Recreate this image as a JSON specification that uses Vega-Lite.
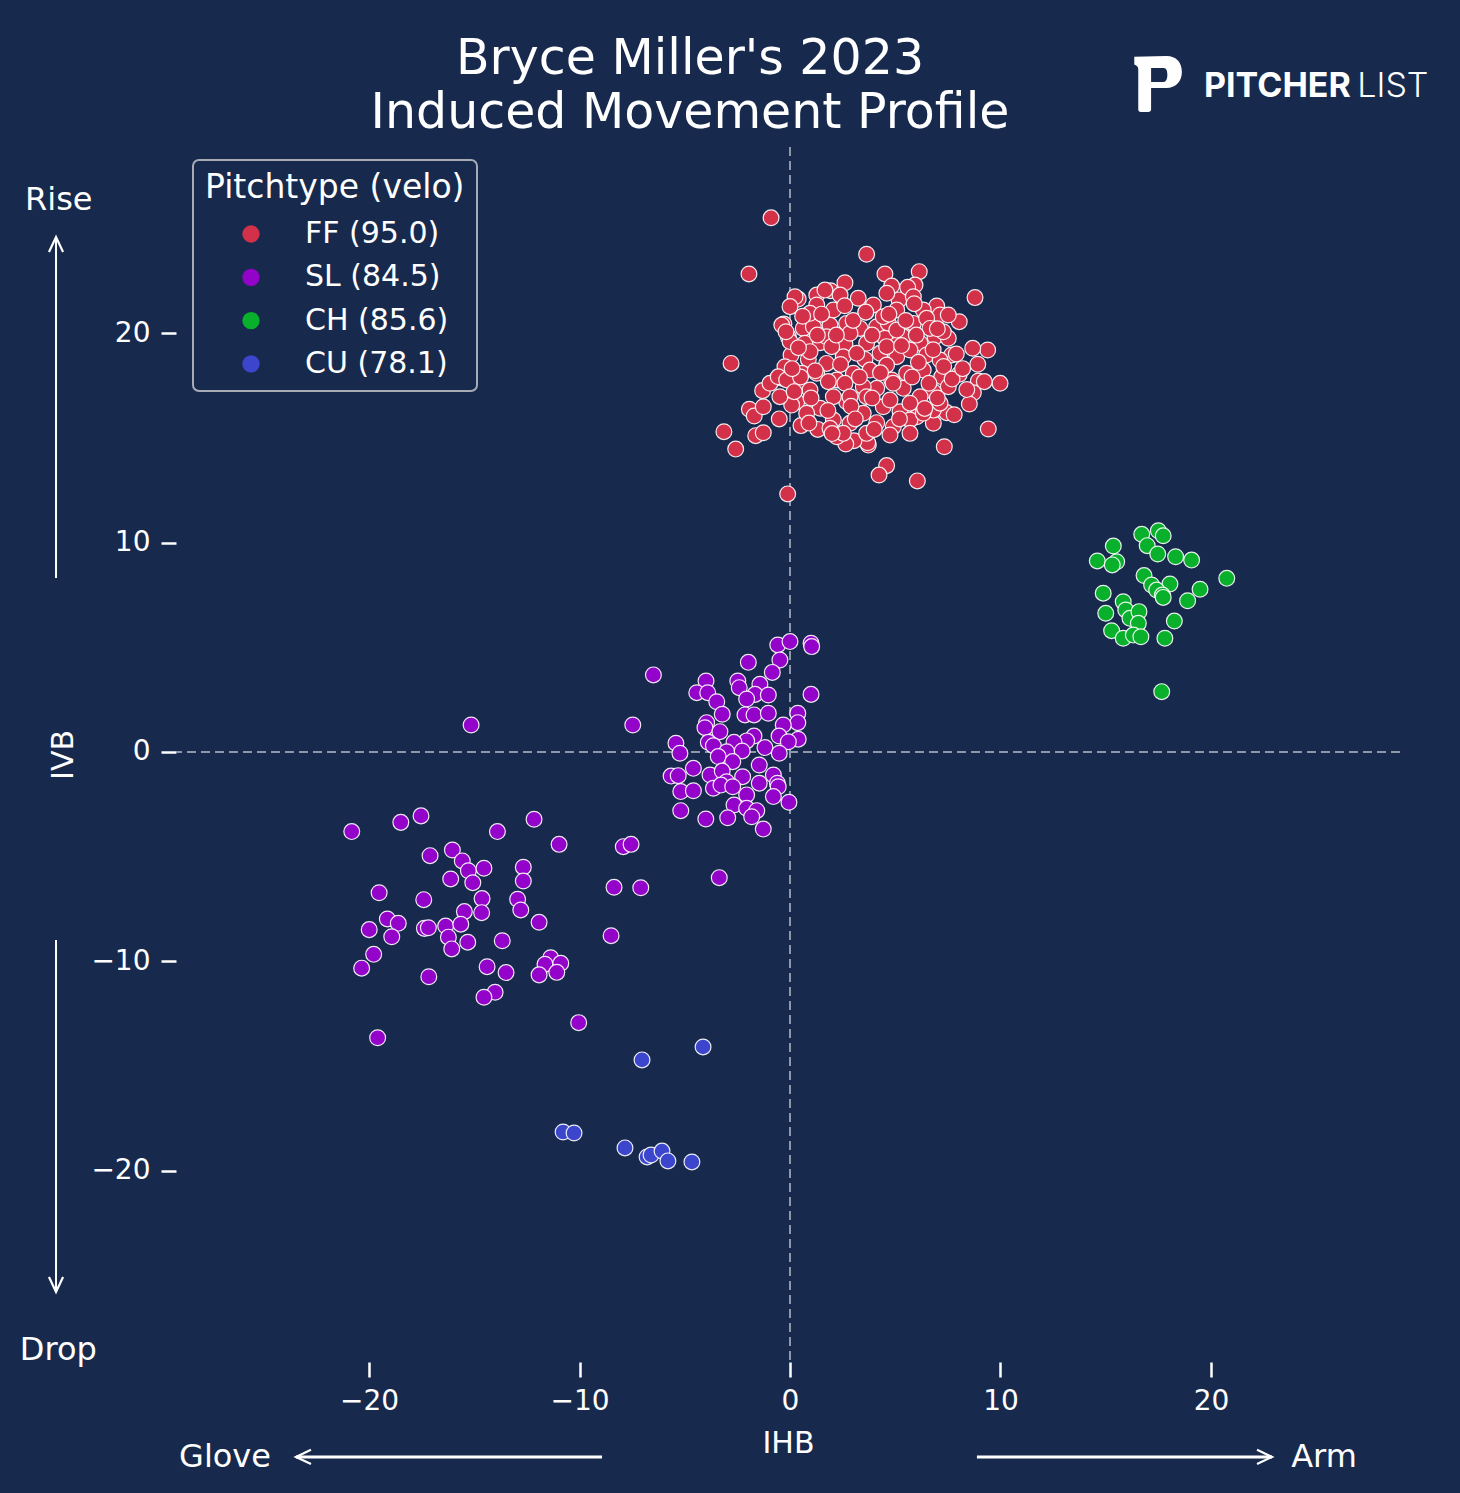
{
  "$schema": "https://vega.github.io/schema/vega-lite/v6.json",
  "width": 1224,
  "height": 1215,
  "autosize": {"type": "none"},
  "padding": {"left": 176, "top": 147, "right": 60, "bottom": 131},
  "background": "#172a4e",
  "title": {
    "text": ["Bryce Miller's 2023", "Induced Movement Profile"],
    "fontSize": 49,
    "fontWeight": "normal",
    "font": "DejaVu Sans",
    "color": "#ffffff",
    "anchor": "middle",
    "frame": "group",
    "dx": -98,
    "dy": 140,
    "lineHeight": 54,
    "baseline": "bottom",
    "offset": 9
  },
  "datasets": {
    "pitches": [
      {"pitch":"FF","ihb":-0.90,"ivb":25.50},{"pitch":"FF","ihb":-1.95,"ivb":22.82},{"pitch":"FF","ihb":3.64,"ivb":23.76},{"pitch":"FF","ihb":4.51,"ivb":22.82},
      {"pitch":"FF","ihb":6.14,"ivb":22.93},{"pitch":"FF","ihb":8.79,"ivb":21.69},{"pitch":"FF","ihb":-2.80,"ivb":18.55},{"pitch":"FF","ihb":-3.14,"ivb":15.29},
      {"pitch":"FF","ihb":-2.58,"ivb":14.46},{"pitch":"FF","ihb":-1.63,"ivb":15.10},{"pitch":"FF","ihb":-1.27,"ivb":15.24},{"pitch":"FF","ihb":-1.93,"ivb":16.36},
      {"pitch":"FF","ihb":-1.70,"ivb":16.04},{"pitch":"FF","ihb":-1.27,"ivb":16.48},{"pitch":"FF","ihb":-1.30,"ivb":17.25},{"pitch":"FF","ihb":-0.11,"ivb":12.32},
      {"pitch":"FF","ihb":4.59,"ivb":13.67},{"pitch":"FF","ihb":4.23,"ivb":13.22},{"pitch":"FF","ihb":6.05,"ivb":12.94},{"pitch":"FF","ihb":7.33,"ivb":14.57},
      {"pitch":"FF","ihb":9.42,"ivb":15.42},{"pitch":"FF","ihb":9.98,"ivb":17.60},{"pitch":"FF","ihb":9.39,"ivb":19.19},{"pitch":"FF","ihb":8.68,"ivb":19.27},
      {"pitch":"FF","ihb":8.92,"ivb":18.51},{"pitch":"FF","ihb":8.95,"ivb":17.71},{"pitch":"FF","ihb":9.23,"ivb":17.68},{"pitch":"FF","ihb":8.71,"ivb":17.15},
      {"pitch":"FF","ihb":8.52,"ivb":16.61},{"pitch":"FF","ihb":8.04,"ivb":20.54},{"pitch":"FF","ihb":8.04,"ivb":18.03},{"pitch":"FF","ihb":7.44,"ivb":16.20},
      {"pitch":"FF","ihb":6.81,"ivb":15.69},{"pitch":"FF","ihb":3.72,"ivb":14.65},{"pitch":"FF","ihb":3.69,"ivb":14.76},{"pitch":"FF","ihb":3.04,"ivb":14.86},
      {"pitch":"FF","ihb":2.65,"ivb":14.70},{"pitch":"FF","ihb":2.22,"ivb":15.05},{"pitch":"FF","ihb":1.32,"ivb":15.40},{"pitch":"FF","ihb":0.52,"ivb":15.58},
      {"pitch":"FF","ihb":-0.51,"ivb":15.90},{"pitch":"FF","ihb":4.83,"ivb":22.24},{"pitch":"FF","ihb":5.18,"ivb":21.58},{"pitch":"FF","ihb":5.94,"ivb":22.29},
      {"pitch":"FF","ihb":5.59,"ivb":22.18},{"pitch":"FF","ihb":2.61,"ivb":22.40},{"pitch":"FF","ihb":1.93,"ivb":22.02},{"pitch":"FF","ihb":2.38,"ivb":21.81},
      {"pitch":"FF","ihb":1.27,"ivb":21.81},{"pitch":"FF","ihb":0.39,"ivb":21.62},{"pitch":"FF","ihb":0.24,"ivb":21.73},{"pitch":"FF","ihb":3.61,"ivb":20.99},
      {"pitch":"FF","ihb":3.96,"ivb":21.34},{"pitch":"FF","ihb":3.24,"ivb":21.66},{"pitch":"FF","ihb":6.81,"ivb":20.86},{"pitch":"FF","ihb":6.97,"ivb":21.29},
      {"pitch":"FF","ihb":7.13,"ivb":20.86},{"pitch":"FF","ihb":7.52,"ivb":20.86},{"pitch":"FF","ihb":6.33,"ivb":21.10},{"pitch":"FF","ihb":-0.29,"ivb":20.43},
      {"pitch":"FF","ihb":0.63,"ivb":20.22},{"pitch":"FF","ihb":-0.08,"ivb":19.82},{"pitch":"FF","ihb":0.05,"ivb":18.95},{"pitch":"FF","ihb":1.90,"ivb":20.38},
      {"pitch":"FF","ihb":1.11,"ivb":20.30},{"pitch":"FF","ihb":2.69,"ivb":20.46},{"pitch":"FF","ihb":4.12,"ivb":20.30},{"pitch":"FF","ihb":4.67,"ivb":20.46},
      {"pitch":"FF","ihb":3.33,"ivb":20.22},{"pitch":"FF","ihb":5.86,"ivb":20.46},{"pitch":"FF","ihb":6.49,"ivb":20.70},{"pitch":"FF","ihb":5.38,"ivb":19.82},
      {"pitch":"FF","ihb":4.51,"ivb":19.75},{"pitch":"FF","ihb":6.89,"ivb":19.82},{"pitch":"FF","ihb":7.52,"ivb":19.75},{"pitch":"FF","ihb":6.18,"ivb":19.51},
      {"pitch":"FF","ihb":5.07,"ivb":19.43},{"pitch":"FF","ihb":3.64,"ivb":19.51},{"pitch":"FF","ihb":2.61,"ivb":19.48},{"pitch":"FF","ihb":1.43,"ivb":19.54},
      {"pitch":"FF","ihb":0.71,"ivb":19.51},{"pitch":"FF","ihb":0.00,"ivb":19.59},{"pitch":"FF","ihb":7.68,"ivb":18.95},{"pitch":"FF","ihb":6.49,"ivb":18.95},
      {"pitch":"FF","ihb":5.07,"ivb":18.87},{"pitch":"FF","ihb":4.28,"ivb":19.03},{"pitch":"FF","ihb":3.56,"ivb":18.74},{"pitch":"FF","ihb":2.53,"ivb":18.87},
      {"pitch":"FF","ihb":1.74,"ivb":18.55},{"pitch":"FF","ihb":0.87,"ivb":18.74},{"pitch":"FF","ihb":7.21,"ivb":17.91},{"pitch":"FF","ihb":6.33,"ivb":18.23},
      {"pitch":"FF","ihb":5.54,"ivb":18.08},{"pitch":"FF","ihb":4.59,"ivb":18.47},{"pitch":"FF","ihb":3.80,"ivb":18.23},{"pitch":"FF","ihb":3.01,"ivb":18.08},
      {"pitch":"FF","ihb":2.22,"ivb":17.76},{"pitch":"FF","ihb":1.27,"ivb":18.08},{"pitch":"FF","ihb":0.39,"ivb":17.44},{"pitch":"FF","ihb":-0.39,"ivb":17.84},
      {"pitch":"FF","ihb":-0.95,"ivb":17.60},{"pitch":"FF","ihb":7.52,"ivb":17.44},{"pitch":"FF","ihb":6.81,"ivb":17.20},{"pitch":"FF","ihb":6.18,"ivb":16.96},
      {"pitch":"FF","ihb":5.38,"ivb":17.36},{"pitch":"FF","ihb":4.83,"ivb":17.76},{"pitch":"FF","ihb":4.12,"ivb":17.36},{"pitch":"FF","ihb":3.48,"ivb":17.44},
      {"pitch":"FF","ihb":2.61,"ivb":17.60},{"pitch":"FF","ihb":1.82,"ivb":17.68},{"pitch":"FF","ihb":0.95,"ivb":17.28},{"pitch":"FF","ihb":0.32,"ivb":16.72},
      {"pitch":"FF","ihb":6.81,"ivb":16.32},{"pitch":"FF","ihb":6.02,"ivb":16.00},{"pitch":"FF","ihb":5.23,"ivb":16.24},{"pitch":"FF","ihb":4.43,"ivb":16.48},
      {"pitch":"FF","ihb":3.48,"ivb":16.17},{"pitch":"FF","ihb":2.69,"ivb":16.72},{"pitch":"FF","ihb":2.06,"ivb":16.96},{"pitch":"FF","ihb":1.43,"ivb":16.41},
      {"pitch":"FF","ihb":0.79,"ivb":16.17},{"pitch":"FF","ihb":0.08,"ivb":16.56},{"pitch":"FF","ihb":-0.48,"ivb":16.96},{"pitch":"FF","ihb":4.12,"ivb":15.72},
      {"pitch":"FF","ihb":4.91,"ivb":15.53},{"pitch":"FF","ihb":2.85,"ivb":15.69},{"pitch":"FF","ihb":2.06,"ivb":15.85},{"pitch":"FF","ihb":1.90,"ivb":15.45},
      {"pitch":"FF","ihb":5.70,"ivb":15.85},{"pitch":"FF","ihb":6.33,"ivb":16.17},{"pitch":"FF","ihb":1.66,"ivb":22.05},{"pitch":"FF","ihb":0.00,"ivb":21.26},
      {"pitch":"FF","ihb":1.27,"ivb":21.34},{"pitch":"FF","ihb":0.95,"ivb":20.94},{"pitch":"FF","ihb":2.06,"ivb":21.10},{"pitch":"FF","ihb":4.43,"ivb":20.78},
      {"pitch":"FF","ihb":5.86,"ivb":21.73},{"pitch":"FF","ihb":5.07,"ivb":21.10},{"pitch":"FF","ihb":-0.39,"ivb":20.38},{"pitch":"FF","ihb":-0.19,"ivb":20.06},
      {"pitch":"FF","ihb":-0.24,"ivb":18.39},{"pitch":"FF","ihb":-0.56,"ivb":17.91},{"pitch":"FF","ihb":-0.16,"ivb":17.76},{"pitch":"FF","ihb":7.13,"ivb":18.71},
      {"pitch":"FF","ihb":5.70,"ivb":19.19},{"pitch":"FF","ihb":4.59,"ivb":19.35},{"pitch":"FF","ihb":3.17,"ivb":19.03},{"pitch":"FF","ihb":1.74,"ivb":19.82},
      {"pitch":"FF","ihb":0.95,"ivb":19.11},{"pitch":"FF","ihb":0.56,"ivb":18.08},{"pitch":"FF","ihb":7.28,"ivb":20.06},{"pitch":"FF","ihb":6.65,"ivb":20.22},
      {"pitch":"FF","ihb":5.07,"ivb":20.14},{"pitch":"FF","ihb":2.85,"ivb":19.99},{"pitch":"FF","ihb":1.98,"ivb":19.35},{"pitch":"FF","ihb":3.64,"ivb":16.96},
      {"pitch":"FF","ihb":2.85,"ivb":16.96},{"pitch":"FF","ihb":4.75,"ivb":16.80},{"pitch":"FF","ihb":5.70,"ivb":16.65},{"pitch":"FF","ihb":7.13,"ivb":16.65},
      {"pitch":"FF","ihb":3.64,"ivb":15.21},{"pitch":"FF","ihb":4.75,"ivb":15.13},{"pitch":"FF","ihb":5.70,"ivb":15.21},{"pitch":"FF","ihb":2.53,"ivb":15.21},
      {"pitch":"FF","ihb":0.6,"ivb":20.8},{"pitch":"FF","ihb":1.5,"ivb":20.9},{"pitch":"FF","ihb":2.2,"ivb":19.9},{"pitch":"FF","ihb":3.0,"ivb":20.6},
      {"pitch":"FF","ihb":3.9,"ivb":19.9},{"pitch":"FF","ihb":4.7,"ivb":20.9},{"pitch":"FF","ihb":5.5,"ivb":20.6},{"pitch":"FF","ihb":6.0,"ivb":19.9},
      {"pitch":"FF","ihb":6.8,"ivb":19.2},{"pitch":"FF","ihb":7.3,"ivb":18.4},{"pitch":"FF","ihb":6.1,"ivb":18.6},{"pitch":"FF","ihb":5.3,"ivb":19.4},
      {"pitch":"FF","ihb":4.3,"ivb":18.1},{"pitch":"FF","ihb":3.3,"ivb":17.9},{"pitch":"FF","ihb":2.4,"ivb":18.5},{"pitch":"FF","ihb":1.2,"ivb":18.2},
      {"pitch":"FF","ihb":0.5,"ivb":17.9},{"pitch":"FF","ihb":1.0,"ivb":16.9},{"pitch":"FF","ihb":1.8,"ivb":16.3},{"pitch":"FF","ihb":2.9,"ivb":16.5},
      {"pitch":"FF","ihb":3.9,"ivb":16.9},{"pitch":"FF","ihb":4.9,"ivb":17.6},{"pitch":"FF","ihb":5.8,"ivb":17.9},{"pitch":"FF","ihb":6.6,"ivb":17.6},
      {"pitch":"FF","ihb":7.7,"ivb":17.8},{"pitch":"FF","ihb":7.0,"ivb":16.9},{"pitch":"FF","ihb":6.4,"ivb":16.4},{"pitch":"FF","ihb":5.2,"ivb":15.9},
      {"pitch":"FF","ihb":4.0,"ivb":15.4},{"pitch":"FF","ihb":3.1,"ivb":15.9},{"pitch":"FF","ihb":2.0,"ivb":15.2},{"pitch":"FF","ihb":0.9,"ivb":15.7},
      {"pitch":"FF","ihb":0.2,"ivb":17.2},{"pitch":"FF","ihb":0.1,"ivb":18.3},{"pitch":"FF","ihb":0.4,"ivb":19.3},{"pitch":"FF","ihb":1.3,"ivb":19.9},
      {"pitch":"FF","ihb":2.6,"ivb":21.3},{"pitch":"FF","ihb":3.6,"ivb":21.0},{"pitch":"FF","ihb":4.6,"ivb":21.9},{"pitch":"FF","ihb":5.9,"ivb":21.4},
      {"pitch":"FF","ihb":7.0,"ivb":20.2},{"pitch":"FF","ihb":7.9,"ivb":19.0},{"pitch":"FF","ihb":8.2,"ivb":18.3},{"pitch":"FF","ihb":8.4,"ivb":17.3},
      {"pitch":"FF","ihb":7.8,"ivb":16.1},

      {"pitch":"SL","ihb":-0.58,"ivb":5.11},{"pitch":"SL","ihb":0.00,"ivb":5.27},{"pitch":"SL","ihb":1.00,"ivb":5.19},{"pitch":"SL","ihb":1.03,"ivb":5.03},
      {"pitch":"SL","ihb":-0.48,"ivb":4.39},{"pitch":"SL","ihb":-1.98,"ivb":4.28},{"pitch":"SL","ihb":-0.84,"ivb":3.80},{"pitch":"SL","ihb":-6.49,"ivb":3.68},
      {"pitch":"SL","ihb":-3.99,"ivb":3.39},{"pitch":"SL","ihb":-2.48,"ivb":3.39},{"pitch":"SL","ihb":-2.41,"ivb":3.07},{"pitch":"SL","ihb":-1.43,"ivb":3.23},
      {"pitch":"SL","ihb":-4.43,"ivb":2.83},{"pitch":"SL","ihb":-3.91,"ivb":2.83},{"pitch":"SL","ihb":-1.66,"ivb":2.75},{"pitch":"SL","ihb":-1.03,"ivb":2.72},
      {"pitch":"SL","ihb":1.00,"ivb":2.75},{"pitch":"SL","ihb":-3.48,"ivb":2.40},{"pitch":"SL","ihb":-2.06,"ivb":2.53},{"pitch":"SL","ihb":-3.22,"ivb":1.80},
      {"pitch":"SL","ihb":-2.14,"ivb":1.77},{"pitch":"SL","ihb":-1.71,"ivb":1.77},{"pitch":"SL","ihb":-1.03,"ivb":1.85},{"pitch":"SL","ihb":0.37,"ivb":1.85},
      {"pitch":"SL","ihb":0.37,"ivb":1.40},{"pitch":"SL","ihb":-0.32,"ivb":1.29},{"pitch":"SL","ihb":-3.96,"ivb":1.40},{"pitch":"SL","ihb":-4.04,"ivb":1.16},
      {"pitch":"SL","ihb":-3.33,"ivb":0.97},{"pitch":"SL","ihb":-1.71,"ivb":0.76},{"pitch":"SL","ihb":-2.06,"ivb":0.53},{"pitch":"SL","ihb":-0.52,"ivb":0.76},
      {"pitch":"SL","ihb":0.39,"ivb":0.61},{"pitch":"SL","ihb":-0.08,"ivb":0.49},{"pitch":"SL","ihb":-3.88,"ivb":0.46},{"pitch":"SL","ihb":-3.64,"ivb":0.30},
      {"pitch":"SL","ihb":-2.66,"ivb":0.46},{"pitch":"SL","ihb":-1.19,"ivb":0.21},{"pitch":"SL","ihb":-5.42,"ivb":0.42},{"pitch":"SL","ihb":-5.23,"ivb":-0.06},
      {"pitch":"SL","ihb":-3.01,"ivb":0.01},{"pitch":"SL","ihb":-2.27,"ivb":0.05},{"pitch":"SL","ihb":-0.51,"ivb":-0.06},{"pitch":"SL","ihb":-3.41,"ivb":-0.22},
      {"pitch":"SL","ihb":-2.72,"ivb":-0.46},{"pitch":"SL","ihb":-4.59,"ivb":-0.78},{"pitch":"SL","ihb":-1.46,"ivb":-0.62},{"pitch":"SL","ihb":-5.65,"ivb":-1.15},
      {"pitch":"SL","ihb":-5.31,"ivb":-1.13},{"pitch":"SL","ihb":-3.80,"ivb":-1.10},{"pitch":"SL","ihb":-3.22,"ivb":-0.91},{"pitch":"SL","ihb":-2.25,"ivb":-1.18},
      {"pitch":"SL","ihb":-0.79,"ivb":-1.10},{"pitch":"SL","ihb":-3.01,"ivb":-1.42},{"pitch":"SL","ihb":-1.46,"ivb":-1.49},{"pitch":"SL","ihb":-0.60,"ivb":-1.49},
      {"pitch":"SL","ihb":-0.56,"ivb":-1.66},{"pitch":"SL","ihb":-3.64,"ivb":-1.73},{"pitch":"SL","ihb":-3.28,"ivb":-1.58},{"pitch":"SL","ihb":-2.72,"ivb":-1.66},
      {"pitch":"SL","ihb":-5.19,"ivb":-1.89},{"pitch":"SL","ihb":-4.59,"ivb":-1.85},{"pitch":"SL","ihb":-2.06,"ivb":-2.05},{"pitch":"SL","ihb":-0.79,"ivb":-2.13},
      {"pitch":"SL","ihb":-0.05,"ivb":-2.40},{"pitch":"SL","ihb":-2.66,"ivb":-2.53},{"pitch":"SL","ihb":-2.06,"ivb":-2.69},{"pitch":"SL","ihb":-1.58,"ivb":-2.80},
      {"pitch":"SL","ihb":-1.82,"ivb":-3.09},{"pitch":"SL","ihb":-5.19,"ivb":-2.80},{"pitch":"SL","ihb":-4.00,"ivb":-3.20},{"pitch":"SL","ihb":-2.96,"ivb":-3.14},
      {"pitch":"SL","ihb":-1.27,"ivb":-3.68},{"pitch":"SL","ihb":-3.36,"ivb":-6.00},
      {"pitch":"SL","ihb":-15.15,"ivb":1.29},{"pitch":"SL","ihb":-7.47,"ivb":1.29},{"pitch":"SL","ihb":-20.82,"ivb":-3.80},{"pitch":"SL","ihb":-18.49,"ivb":-3.36},
      {"pitch":"SL","ihb":-17.53,"ivb":-3.05},{"pitch":"SL","ihb":-13.90,"ivb":-3.80},{"pitch":"SL","ihb":-12.16,"ivb":-3.21},{"pitch":"SL","ihb":-10.97,"ivb":-4.41},
      {"pitch":"SL","ihb":-7.92,"ivb":-4.52},{"pitch":"SL","ihb":-7.55,"ivb":-4.41},{"pitch":"SL","ihb":-17.10,"ivb":-4.95},{"pitch":"SL","ihb":-16.04,"ivb":-4.68},
      {"pitch":"SL","ihb":-15.57,"ivb":-5.20},{"pitch":"SL","ihb":-15.28,"ivb":-5.67},{"pitch":"SL","ihb":-14.54,"ivb":-5.55},{"pitch":"SL","ihb":-15.07,"ivb":-6.24},
      {"pitch":"SL","ihb":-16.12,"ivb":-6.06},{"pitch":"SL","ihb":-12.67,"ivb":-5.50},{"pitch":"SL","ihb":-12.67,"ivb":-6.16},{"pitch":"SL","ihb":-8.36,"ivb":-6.46},
      {"pitch":"SL","ihb":-7.09,"ivb":-6.48},{"pitch":"SL","ihb":-19.52,"ivb":-6.72},{"pitch":"SL","ihb":-17.40,"ivb":-7.05},{"pitch":"SL","ihb":-14.63,"ivb":-7.00},
      {"pitch":"SL","ihb":-12.94,"ivb":-7.03},{"pitch":"SL","ihb":-12.79,"ivb":-7.54},{"pitch":"SL","ihb":-14.65,"ivb":-7.67},{"pitch":"SL","ihb":-15.47,"ivb":-7.62},
      {"pitch":"SL","ihb":-19.13,"ivb":-7.97},{"pitch":"SL","ihb":-18.61,"ivb":-8.18},{"pitch":"SL","ihb":-19.99,"ivb":-8.48},{"pitch":"SL","ihb":-18.92,"ivb":-8.82},
      {"pitch":"SL","ihb":-17.37,"ivb":-8.42},{"pitch":"SL","ihb":-17.18,"ivb":-8.39},{"pitch":"SL","ihb":-16.36,"ivb":-8.31},{"pitch":"SL","ihb":-15.64,"ivb":-8.22},
      {"pitch":"SL","ihb":-16.23,"ivb":-8.84},{"pitch":"SL","ihb":-16.07,"ivb":-9.40},{"pitch":"SL","ihb":-15.31,"ivb":-9.08},{"pitch":"SL","ihb":-11.92,"ivb":-8.13},
      {"pitch":"SL","ihb":-13.67,"ivb":-9.01},{"pitch":"SL","ihb":-8.50,"ivb":-8.77},{"pitch":"SL","ihb":-19.78,"ivb":-9.66},{"pitch":"SL","ihb":-20.35,"ivb":-10.32},
      {"pitch":"SL","ihb":-17.16,"ivb":-10.73},{"pitch":"SL","ihb":-14.39,"ivb":-10.25},{"pitch":"SL","ihb":-13.49,"ivb":-10.53},{"pitch":"SL","ihb":-11.37,"ivb":-9.82},
      {"pitch":"SL","ihb":-11.64,"ivb":-10.13},{"pitch":"SL","ihb":-10.89,"ivb":-10.09},{"pitch":"SL","ihb":-11.08,"ivb":-10.52},{"pitch":"SL","ihb":-11.92,"ivb":-10.64},
      {"pitch":"SL","ihb":-14.01,"ivb":-11.47},{"pitch":"SL","ihb":-14.54,"ivb":-11.71},{"pitch":"SL","ihb":-10.04,"ivb":-12.92},{"pitch":"SL","ihb":-19.59,"ivb":-13.64},

      {"pitch":"CH","ihb":16.71,"ivb":10.39},{"pitch":"CH","ihb":17.50,"ivb":10.56},{"pitch":"CH","ihb":17.73,"ivb":10.32},{"pitch":"CH","ihb":16.97,"ivb":9.85},
      {"pitch":"CH","ihb":17.47,"ivb":9.45},{"pitch":"CH","ihb":15.36,"ivb":9.83},{"pitch":"CH","ihb":14.60,"ivb":9.12},{"pitch":"CH","ihb":15.52,"ivb":9.08},
      {"pitch":"CH","ihb":15.31,"ivb":8.93},{"pitch":"CH","ihb":18.32,"ivb":9.32},{"pitch":"CH","ihb":19.08,"ivb":9.16},{"pitch":"CH","ihb":20.75,"ivb":8.29},
      {"pitch":"CH","ihb":16.82,"ivb":8.42},{"pitch":"CH","ihb":17.18,"ivb":7.97},{"pitch":"CH","ihb":18.05,"ivb":8.02},{"pitch":"CH","ihb":17.42,"ivb":7.73},
      {"pitch":"CH","ihb":17.69,"ivb":7.49},{"pitch":"CH","ihb":17.73,"ivb":7.38},{"pitch":"CH","ihb":19.48,"ivb":7.77},{"pitch":"CH","ihb":18.89,"ivb":7.22},
      {"pitch":"CH","ihb":14.88,"ivb":7.58},{"pitch":"CH","ihb":15.83,"ivb":7.17},{"pitch":"CH","ihb":15.00,"ivb":6.62},{"pitch":"CH","ihb":15.95,"ivb":6.78},
      {"pitch":"CH","ihb":16.15,"ivb":6.38},{"pitch":"CH","ihb":16.58,"ivb":6.70},{"pitch":"CH","ihb":16.55,"ivb":6.14},{"pitch":"CH","ihb":18.26,"ivb":6.25},
      {"pitch":"CH","ihb":15.28,"ivb":5.79},{"pitch":"CH","ihb":15.83,"ivb":5.43},{"pitch":"CH","ihb":16.31,"ivb":5.58},{"pitch":"CH","ihb":16.67,"ivb":5.50},
      {"pitch":"CH","ihb":17.81,"ivb":5.43},{"pitch":"CH","ihb":17.66,"ivb":2.88},

      {"pitch":"CU","ihb":-7.03,"ivb":-14.70},{"pitch":"CU","ihb":-4.13,"ivb":-14.08},{"pitch":"CU","ihb":-10.78,"ivb":-18.14},{"pitch":"CU","ihb":-10.26,"ivb":-18.19},
      {"pitch":"CU","ihb":-7.84,"ivb":-18.90},{"pitch":"CU","ihb":-6.79,"ivb":-19.33},{"pitch":"CU","ihb":-6.60,"ivb":-19.24},{"pitch":"CU","ihb":-6.08,"ivb":-19.05},
      {"pitch":"CU","ihb":-5.80,"ivb":-19.52},{"pitch":"CU","ihb":-4.66,"ivb":-19.57}
    ],
    "arrows": [
      {"dir":"up","ihb":-34.87,"ivb":8.31,"tipIhb":-34.87,"tipIvb":24.58},
      {"dir":"down","ihb":-34.87,"ivb":-8.97,"tipIhb":-34.87,"tipIvb":-25.78},
      {"dir":"left","ihb":-8.93,"ivb":-33.65,"tipIhb":-23.47,"tipIvb":-33.65},
      {"dir":"right","ihb":8.88,"ivb":-33.65,"tipIhb":22.90,"tipIvb":-33.65}
    ],
    "notes": [
      {"label":"Rise","ihb":-34.74,"ivb":25.87},
      {"label":"Drop","ihb":-34.76,"ivb":-29.02},
      {"label":"Glove","ihb":-26.84,"ivb":-34.13},
      {"label":"Arm","ihb":25.37,"ivb":-34.13}
    ]
  },
  "layer": [
    {
      "data": {"values": [{}]},
      "mark": {"type": "rule", "color": "#8f98ab", "strokeWidth": 2, "strokeDash": [9, 5]},
      "encoding": {
        "x": {"datum": 0, "type": "quantitative", "scale": {"domain": [-29.17, 28.98], "nice": false, "zero": false}, "title": "IHB"}
      }
    },
    {
      "data": {"values": [{}]},
      "mark": {"type": "rule", "color": "#8f98ab", "strokeWidth": 2, "strokeDash": [9, 5]},
      "encoding": {
        "y": {"datum": 0, "type": "quantitative", "scale": {"domain": [-29.12, 28.88], "nice": false, "zero": false}, "title": "IVB"}
      }
    },
    {
      "data": {"name": "pitches"},
      "mark": {"type": "point", "filled": true, "size": 250, "opacity": 1, "stroke": "#ffffff", "strokeWidth": 1.2, "strokeOpacity": 0.9},
      "encoding": {
        "x": {
          "field": "ihb", "type": "quantitative", "title": "IHB",
          "scale": {"domain": [-29.17, 28.98], "nice": false, "zero": false},
          "axis": {"values": [-20, -10, 0, 10, 20], "titlePadding": 13, "labelPadding": 10}
        },
        "y": {
          "field": "ivb", "type": "quantitative", "title": "IVB",
          "scale": {"domain": [-29.12, 28.88], "nice": false, "zero": false},
          "axis": {"values": [-20, -10, 0, 10, 20], "titlePadding": 12, "labelPadding": 11}
        },
        "color": {
          "field": "pitch", "type": "nominal",
          "scale": {"domain": ["FF", "SL", "CH", "CU"], "range": ["#d3304a", "#9303c9", "#08b02b", "#3c46cc"]},
          "legend": {
            "title": "Pitchtype (velo)",
            "orient": "none",
            "legendX": 17,
            "legendY": 13,
            "titleLimit": 600,
            "symbolSize": 300,
            "symbolOffset": 31,
            "labelOffset": 39,
            "labelExpr": "{'FF': 'FF (95.0)', 'SL': 'SL (84.5)', 'CH': 'CH (85.6)', 'CU': 'CU (78.1)'}[datum.label]"
          }
        }
      }
    },
    {
      "data": {"name": "arrows"},
      "transform": [{"filter": "datum.dir == 'up' || datum.dir == 'down'"}],
      "mark": {"type": "rule", "color": "#ffffff", "strokeWidth": 2},
      "encoding": {
        "x": {"field": "ihb", "type": "quantitative", "title": "IHB", "scale": {"domain": [-29.17, 28.98], "nice": false, "zero": false}},
        "y": {"field": "ivb", "type": "quantitative", "title": "IVB", "scale": {"domain": [-29.12, 28.88], "nice": false, "zero": false}},
        "x2": {"field": "tipIhb"},
        "y2": {"field": "tipIvb"}
      }
    },
    {
      "data": {"name": "arrows"},
      "transform": [{"filter": "datum.dir == 'left' || datum.dir == 'right'"}],
      "mark": {"type": "rule", "color": "#ffffff", "strokeWidth": 3},
      "encoding": {
        "x": {"field": "ihb", "type": "quantitative", "title": "IHB", "scale": {"domain": [-29.17, 28.98], "nice": false, "zero": false}},
        "y": {"field": "ivb", "type": "quantitative", "title": "IVB", "scale": {"domain": [-29.12, 28.88], "nice": false, "zero": false}},
        "x2": {"field": "tipIhb"},
        "y2": {"field": "tipIvb"}
      }
    },
    {
      "data": {"name": "arrows"},
      "mark": {"type": "point", "shape": "M -0.47 1 L 0 0 L 0.47 1", "filled": false, "color": "#ffffff", "strokeWidth": 2.2, "size": 900, "opacity": 1},
      "encoding": {
        "x": {"field": "tipIhb", "type": "quantitative", "title": "IHB", "scale": {"domain": [-29.17, 28.98], "nice": false, "zero": false}},
        "y": {"field": "tipIvb", "type": "quantitative", "title": "IVB", "scale": {"domain": [-29.12, 28.88], "nice": false, "zero": false}},
        "angle": {"field": "dir", "type": "nominal", "scale": {"type": "ordinal", "domain": ["up", "right", "down", "left"], "range": [0, 90, 180, 270]}, "legend": null}
      }
    },
    {
      "data": {"name": "notes"},
      "mark": {"type": "text", "color": "#ffffff", "font": "DejaVu Sans", "fontSize": 32, "align": "center", "baseline": "alphabetic"},
      "encoding": {
        "x": {"field": "ihb", "type": "quantitative", "title": "IHB", "scale": {"domain": [-29.17, 28.98], "nice": false, "zero": false}},
        "y": {"field": "ivb", "type": "quantitative", "title": "IVB", "scale": {"domain": [-29.12, 28.88], "nice": false, "zero": false}},
        "text": {"field": "label"}
      }
    },
    {
      "data": {"values": [{"ihb": 17.48, "ivb": 31.89}]},
      "mark": {
        "type": "point",
        "shape": "M -0.83 -0.95 L 0.3 -0.98 C 0.65 -0.98 0.84 -0.75 0.84 -0.42 C 0.84 -0.08 0.62 0.14 0.3 0.14 L -0.24 0.14 L -0.24 0.9 C -0.24 0.96 -0.28 0.98 -0.34 0.98 L -0.6 0.98 C -0.66 0.98 -0.69 0.95 -0.69 0.9 L -0.69 -0.52 C -0.69 -0.6 -0.75 -0.66 -0.83 -0.68 Z M -0.24 -0.56 L -0.24 -0.07 L 0.2 -0.07 C 0.3 -0.07 0.33 -0.2 0.33 -0.32 C 0.33 -0.45 0.3 -0.56 0.2 -0.56 Z",
        "filled": true, "color": "#ffffff", "size": 3249, "opacity": 1, "strokeWidth": 0
      },
      "encoding": {
        "x": {"field": "ihb", "type": "quantitative", "title": "IHB", "scale": {"domain": [-29.17, 28.98], "nice": false, "zero": false}},
        "y": {"field": "ivb", "type": "quantitative", "title": "IVB", "scale": {"domain": [-29.12, 28.88], "nice": false, "zero": false}}
      }
    },
    {
      "data": {"values": [{"word": "PITCHER", "ihb": 19.67, "ivb": 31.25}]},
      "mark": {"type": "text", "color": "#ffffff", "font": "Inter", "fontWeight": "bold", "fontSize": 34, "align": "left", "baseline": "alphabetic"},
      "encoding": {
        "x": {"field": "ihb", "type": "quantitative", "title": "IHB", "scale": {"domain": [-29.17, 28.98], "nice": false, "zero": false}},
        "y": {"field": "ivb", "type": "quantitative", "title": "IVB", "scale": {"domain": [-29.12, 28.88], "nice": false, "zero": false}},
        "text": {"field": "word"}
      }
    },
    {
      "data": {"values": [{"word": "LIST", "ihb": 26.95, "ivb": 31.25}]},
      "mark": {"type": "text", "color": "#ffffff", "font": "Inter", "fontWeight": 300, "fontSize": 34, "align": "left", "baseline": "alphabetic"},
      "encoding": {
        "x": {"field": "ihb", "type": "quantitative", "title": "IHB", "scale": {"domain": [-29.17, 28.98], "nice": false, "zero": false}},
        "y": {"field": "ivb", "type": "quantitative", "title": "IVB", "scale": {"domain": [-29.12, 28.88], "nice": false, "zero": false}},
        "text": {"field": "word"}
      }
    }
  ],
  "config": {
    "view": {"stroke": null},
    "font": "DejaVu Sans",
    "axis": {
      "domain": false,
      "grid": false,
      "ticks": true,
      "tickColor": "#ffffff",
      "tickSize": 15,
      "tickWidth": 2.5,
      "labelColor": "#ffffff",
      "labelFont": "DejaVu Sans",
      "labelFontSize": 28,
      "titleColor": "#ffffff",
      "titleFont": "DejaVu Sans",
      "titleFontSize": 30,
      "titleFontWeight": "normal"
    },
    "legend": {
      "padding": 12,
      "strokeColor": "#a7abb4",
      "strokeWidth": 2,
      "fillColor": "#172a4e",
      "cornerRadius": 6,
      "titleColor": "#ffffff",
      "titleFont": "DejaVu Sans",
      "titleFontSize": 33,
      "titleFontWeight": "normal",
      "titlePadding": 14,
      "labelColor": "#ffffff",
      "labelFont": "DejaVu Sans",
      "labelFontSize": 30,
      "symbolType": "circle",
      "symbolStrokeWidth": 0,
      "symbolOpacity": 1,
      "rowPadding": 13.3
    }
  }
}
